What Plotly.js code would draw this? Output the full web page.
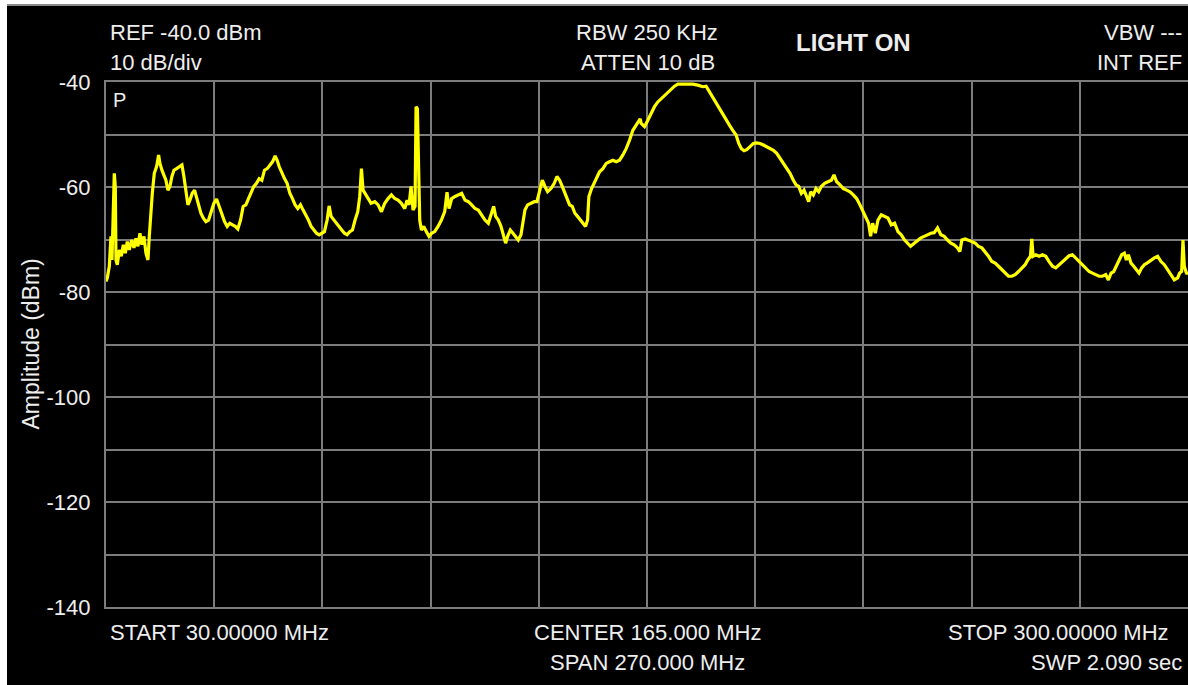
<!DOCTYPE html>
<html>
<head>
<meta charset="utf-8">
<script src="https://cdn.plot.ly/plotly-3.0.1.min.js"></script>
<style>
  html, body { margin: 0; padding: 0; background: #ffffff; width: 1188px; height: 685px; overflow: hidden; }
  #topline { position: absolute; left: 7px; top: 4px; width: 1181px; height: 2px; background: #8a8a8a; }
  #chart { position: absolute; left: 7px; top: 6px; width: 1181px; height: 679px; background: #000; }
</style>
</head>
<body>
<div id="topline"></div>
<div id="chart"></div>
<script>
// Frequency (MHz) of each sampled trace point
const freqMHz = [
  30.0,30.33,30.83,31.24,31.49,31.82,32.07,32.32,32.49,32.82,33.32,33.82,34.32,34.82,35.31,35.81,36.39,36.98,37.48,37.97,
  38.47,38.97,39.47,39.97,40.47,40.8,41.13,41.55,42.05,42.63,43.13,43.46,43.96,44.46,44.95,45.45,45.95,46.45,46.95,47.61,
  48.28,48.95,49.44,49.94,50.44,50.94,51.52,52.1,52.6,53.1,53.68,54.26,54.93,55.59,56.26,56.92,57.59,58.25,58.92,59.58,
  60.24,60.91,61.57,62.24,62.9,63.57,64.23,64.9,65.56,66.23,66.89,67.56,68.22,68.89,69.55,70.22,70.88,71.55,72.21,72.71,
  73.21,73.87,74.54,75.2,75.87,76.53,77.2,77.86,78.53,79.19,79.86,80.52,81.19,81.85,82.52,83.18,83.85,84.51,85.18,85.67,
  86.17,86.84,87.5,88.17,88.83,89.5,90.16,90.83,91.49,92.16,92.82,93.32,93.74,94.15,94.82,95.48,96.14,
  97.07,97.9,98.73,99.56,100.39,101.22,102.05,102.88,103.71,104.55,105.13,105.63,106.12,106.62,107.12,107.37,107.7,108.04,108.29,
  108.7,109.28,109.95,110.61,111.28,112.02,112.86,113.69,114.52,115.1,115.6,116.26,117.09,117.92,118.76,119.59,120.42,121.25,122.08,122.91,
  123.74,124.57,125.4,126.23,126.73,127.23,127.9,128.56,129.23,129.72,130.22,130.89,131.55,132.22,132.88,133.55,134.05,134.54,135.21,136.04,
  136.87,137.54,138.2,138.87,139.53,140.2,141.03,141.86,142.52,143.19,143.85,144.52,145.18,145.68,146.34,147.01,147.67,148.34,149.0,149.67,
  150.17,150.5,151.17,151.83,152.5,153.16,153.99,154.82,155.65,156.48,157.31,158.15,158.98,159.81,160.64,161.47,162.3,163.3,
  163.55,164.38,165.21,166.04,166.87,167.7,168.53,169.36,170.19,171.02,171.86,172.69,173.93,175.18,176.43,177.67,178.92,179.75,180.58,181.41,
  182.24,183.07,183.91,184.74,185.57,186.4,187.23,187.9,188.56,189.22,189.89,190.72,191.55,192.38,193.21,194.04,194.87,195.71,196.54,197.37,
  198.2,199.03,199.86,200.69,201.52,202.19,202.85,203.52,204.18,204.85,205.35,205.84,206.51,207.17,207.84,208.5,209.33,210.17,211.0,211.66,
  212.33,213.16,213.99,214.82,215.65,216.48,217.31,218.14,218.97,219.64,220.3,220.8,221.3,221.97,222.63,223.46,224.29,225.12,225.95,226.78,
  227.62,228.45,229.28,230.11,230.77,
  231.69,232.52,233.35,234.18,235.01,235.84,236.67,237.5,238.33,239.17,240.0,240.83,241.66,242.49,243.07,243.57,244.4,245.23,246.06,246.89,
  247.72,248.56,249.39,250.22,251.05,251.88,252.71,253.54,254.37,255.2,256.03,256.87,257.7,258.53,259.36,260.02,260.69,261.02,261.35,262.02,
  262.85,263.68,264.51,265.34,266.17,267.0,267.84,268.67,269.5,270.33,271.16,271.99,272.82,273.65,274.48,275.31,276.15,276.98,277.81,278.64,
  279.47,280.13,280.8,281.46,282.13,282.79,283.46,284.12,284.62,285.12,285.78,286.45,287.11,287.78,288.44,289.11,289.94,290.77,291.6,292.43,
  293.26,294.09,294.93,295.76,296.59,297.42,297.92,298.42,298.75,299.08,299.6,300.0
];

// Measured amplitude (dBm) at each frequency above
const amplitudeDbm = [
  -78.0,-77.3,-75.1,-69.4,-73.9,-60.6,-57.4,-59.9,-73.9,-74.8,-72.0,-73.2,-71.0,-72.6,-70.4,-72.0,-70.1,-71.6,-69.8,-71.3,
  -68.8,-71.0,-69.4,-72.6,-73.9,-69.4,-65.0,-61.2,-57.4,-56.1,-53.9,-55.5,-56.8,-57.7,-58.7,-60.6,-59.9,-58.0,-56.8,-56.5,
  -56.1,-55.8,-58.0,-61.2,-63.4,-62.5,-61.2,-60.6,-62.2,-63.7,-65.0,-65.9,-66.6,-66.3,-64.7,-63.1,-62.3,-63.7,-65.0,-66.6,
  -67.5,-66.9,-67.2,-67.5,-68.0,-66.3,-63.7,-63.4,-62.2,-61.2,-59.9,-59.3,-58.4,-58.7,-56.8,-56.5,-55.8,-55.2,-54.1,-54.9,
  -56.1,-57.4,-58.4,-59.3,-61.2,-62.2,-63.4,-64.1,-63.4,-64.4,-65.3,-66.3,-67.5,-68.2,-68.8,-69.1,-68.8,-68.5,-66.3,-63.6,
  -65.6,-66.3,-66.9,-67.5,-68.2,-68.8,-69.1,-68.5,-68.2,-66.3,-64.7,-61.8,-56.5,-60.6,-61.5,-62.5,-63.1,
  -62.8,-63.4,-64.7,-63.1,-62.2,-61.5,-62.2,-62.5,-63.1,-64.1,-62.5,-63.4,-59.9,-64.4,-63.7,-44.7,-45.1,-56.1,-66.3,
  -68.2,-67.5,-68.5,-69.4,-68.8,-68.5,-67.5,-66.3,-64.7,-61.0,-64.1,-62.2,-61.8,-61.5,-61.2,-62.5,-62.8,-63.4,-64.1,-64.4,
  -65.3,-66.3,-66.9,-64.7,-63.7,-65.6,-66.3,-67.5,-69.1,-70.7,-69.4,-68.2,-68.8,-69.4,-70.1,-69.1,-66.3,-64.4,-63.4,-63.1,
  -62.8,-62.8,-60.6,-58.7,-59.9,-60.9,-60.3,-59.3,-58.0,-58.7,-59.9,-61.2,-62.2,-63.4,-63.7,-65.0,-65.6,-66.3,-66.9,-67.5,
  -66.3,-61.8,-60.3,-59.3,-58.0,-57.1,-56.5,-55.5,-55.2,-54.9,-55.2,-54.9,-53.9,-52.7,-51.1,-49.2,-48.2,-47.0,
  -47.9,-48.5,-47.3,-46.0,-44.7,-43.8,-43.2,-42.5,-41.9,-41.3,-40.8,-40.4,-40.4,-40.4,-40.4,-40.6,-40.9,-40.8,-41.9,-42.8,
  -43.8,-45.1,-46.0,-47.3,-48.2,-49.2,-50.1,-51.7,-52.7,-53.1,-52.9,-52.3,-51.7,-51.6,-51.7,-52.0,-52.3,-52.7,-53.0,-53.6,
  -54.6,-55.5,-56.5,-57.4,-58.7,-59.6,-59.9,-61.2,-60.6,-61.8,-62.8,-60.9,-61.5,-60.3,-60.9,-59.9,-59.3,-59.0,-58.7,-57.7,
  -59.0,-59.6,-60.3,-60.6,-60.9,-61.5,-62.2,-63.4,-64.7,-65.9,-66.9,-69.4,-66.9,-68.8,-66.3,-65.3,-65.6,-65.9,-67.2,-66.9,
  -68.5,-69.1,-70.1,-70.7,-71.3,
  -70.7,-70.1,-69.7,-69.4,-69.1,-68.8,-68.7,-67.8,-69.1,-69.4,-70.1,-70.7,-71.0,-71.6,-72.3,-70.1,-69.9,-70.1,-70.4,-70.7,
  -71.3,-71.6,-72.3,-73.2,-74.2,-74.5,-75.1,-75.8,-76.3,-77.0,-77.0,-76.7,-76.1,-75.4,-74.8,-73.9,-73.2,-69.9,-73.2,-72.9,
  -73.2,-72.9,-73.2,-74.2,-75.1,-75.4,-74.8,-74.2,-73.5,-73.1,-72.9,-73.5,-74.2,-74.8,-75.4,-76.1,-76.4,-76.7,-77.0,-77.0,
  -76.7,-77.7,-76.4,-76.1,-75.1,-74.2,-72.9,-72.6,-73.9,-72.9,-74.5,-75.1,-75.8,-76.4,-75.4,-74.8,-74.4,-73.9,-73.5,-73.2,
  -74.2,-74.8,-75.8,-76.7,-77.7,-77.3,-76.4,-76.1,-70.1,-75.1,-76.4,-76.5
];

// Axis ticks
const yTickVals = [-140,-130,-120,-110,-100,-90,-80,-70,-60,-50,-40];
const yTickText = ['-140','','-120','','-100','','-80','','-60','','-40'];
const xGridVals = [30,57,84,111,138,165,192,219,246,273,300];

// Header / footer labels
const refLabel = 'REF -40.0 dBm';
const scaleLabel = '10 dB/div';
const rbwLabel = 'RBW 250 KHz';
const attenLabel = 'ATTEN 10 dB';
const titleLabel = 'LIGHT ON';
const vbwLabel = 'VBW ---';
const intRefLabel = 'INT REF';
const traceLabel = 'P';
const startLabel = 'START 30.00000 MHz';
const centerLabel = 'CENTER 165.000 MHz';
const spanLabel = 'SPAN 270.000 MHz';
const stopLabel = 'STOP 300.00000 MHz';
const sweepLabel = 'SWP 2.090 sec';
const yTitle = 'Amplitude (dBm)';

const FONT = 'Liberation Sans, Arial, sans-serif';
const TXT = '#eeeeee';
const GRID = '#7c7c7c';

function ann(text, x, y, xanchor, xshift, yshift, opts) {
  return Object.assign({
    text: text, xref: 'paper', yref: 'paper', x: x, y: y,
    xanchor: xanchor, yanchor: 'middle', xshift: xshift, yshift: yshift,
    showarrow: false, font: {family: FONT, size: 22, color: TXT}
  }, opts || {});
}

const trace = {
  x: freqMHz, y: amplitudeDbm, type: 'scatter', mode: 'lines',
  line: {color: '#ffff00', width: 3.2},
  hoverinfo: 'skip'
};

const layout = {
  width: 1181, height: 679,
  margin: {l: 99, r: 0, t: 76, b: 78},
  paper_bgcolor: '#000000', plot_bgcolor: '#000000',
  showlegend: false,
  font: {family: FONT, color: TXT, size: 22},
  xaxis: {
    range: [30, 300], tickmode: 'array', tickvals: xGridVals,
    showticklabels: false, ticks: '',
    showgrid: true, gridcolor: GRID, gridwidth: 2,
    showline: true, linecolor: GRID, linewidth: 2, mirror: true,
    zeroline: false, fixedrange: true
  },
  yaxis: {
    range: [-140, -40], tickmode: 'array', tickvals: yTickVals, ticktext: yTickText,
    ticks: '', ticklabelstandoff: 9,
    tickfont: {family: FONT, size: 22, color: TXT},
    showgrid: true, gridcolor: GRID, gridwidth: 2,
    showline: true, linecolor: GRID, linewidth: 2, mirror: true,
    zeroline: false, fixedrange: true
  },
  annotations: [
    ann(refLabel, 0, 1, 'left', 2, 50),
    ann(scaleLabel, 0, 1, 'left', 2, 20),
    ann(rbwLabel, 0.5, 1, 'center', 0, 50),
    ann(attenLabel, 0.5, 1, 'center', 1, 20),
    ann(titleLabel, 0.691, 1, 'center', 0, 40, {font: {family: FONT, size: 24, color: TXT, weight: 'bold'}}),
    ann(vbwLabel, 1, 1, 'right', -4, 50),
    ann(intRefLabel, 1, 1, 'right', -4, 20),
    ann(traceLabel, 0, 1, 'left', 5, -18, {font: {family: FONT, size: 20, color: TXT}}),
    ann(startLabel, 0, 0, 'left', 2, -25),
    ann(centerLabel, 0.5, 0, 'center', 0, -25),
    ann(spanLabel, 0.5, 0, 'center', 0, -55),
    ann(stopLabel, 1, 0, 'right', -17, -25),
    ann(sweepLabel, 1, 0, 'right', -4, -55),
    ann(yTitle, 0, 0.5, 'center', -76, 0, {textangle: -90, font: {family: FONT, size: 23, color: TXT}})
  ]
};

Plotly.newPlot('chart', [trace], layout, {displayModeBar: false, staticPlot: true});
</script>
</body>
</html>
